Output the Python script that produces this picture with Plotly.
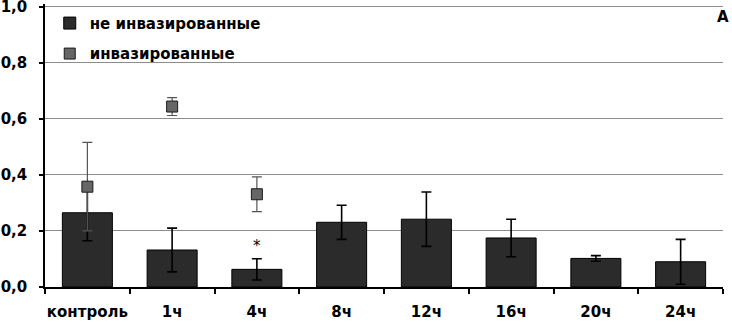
import plotly.graph_objects as go

categories = ["контроль", "1ч", "4ч", "8ч", "12ч", "16ч", "20ч", "24ч"]
non_invaded = [0.265, 0.132, 0.063, 0.231, 0.242, 0.175, 0.102, 0.090]
non_invaded_err = [0.100, 0.078, 0.038, 0.061, 0.097, 0.067, 0.010, 0.080]
invaded_cats = ["контроль", "1ч", "4ч"]
invaded = [0.358, 0.644, 0.331]
invaded_err = [0.158, 0.032, 0.062]
yticks = [0.0, 0.2, 0.4, 0.6, 0.8, 1.0]

font_family = "DejaVu Sans"

fig = go.Figure()
fig.add_trace(go.Bar(
    x=categories, y=non_invaded, name="не инвазированные",
    marker=dict(color="#2b2b2b", line=dict(color="#000000", width=1)),
    width=0.59,
    error_y=dict(type="data", array=non_invaded_err, color="#000000", thickness=1.6, width=5),
    legendgroup="a",
))
fig.add_trace(go.Scatter(
    x=invaded_cats, y=invaded, name="инвазированные", mode="markers",
    marker=dict(symbol="square", size=11, color="#666666", line=dict(color="#1a1a1a", width=1)),
    error_y=dict(type="data", array=invaded_err, color="#555555", thickness=1.2, width=5),
    legendgroup="b",
))

# significance mark above 4ч
idx = categories.index("4ч")
fig.add_annotation(x="4ч", y=non_invaded[idx] + non_invaded_err[idx], yshift=13,
                   text="*", showarrow=False,
                   font=dict(family=font_family, size=15, color="#000000"))
fig.add_annotation(xref="paper", yref="paper", x=1.0, y=1.0, xanchor="right", yanchor="top",
                   xshift=8, yshift=-2,
                   text="<b>A</b>", showarrow=False,
                   font=dict(family=font_family, size=15, color="#000000"))

fig.update_layout(
    width=732, height=322,
    margin=dict(l=45, r=9, t=4, b=35, autoexpand=False),
    paper_bgcolor="white", plot_bgcolor="white",
    separators=", ",
    font=dict(family=font_family, size=13, color="#000"),
    showlegend=True,
    legend=dict(x=0.007, y=0.99, xanchor="left", yanchor="top",
                bgcolor="rgba(0,0,0,0)", traceorder="grouped", tracegroupgap=8,
                font=dict(family=font_family, size=15, color="#000", weight="bold"),
                itemwidth=30),
)
fig.update_xaxes(
    type="category", categoryorder="array", categoryarray=categories,
    showline=True, linecolor="#000", linewidth=1.5,
    ticks="outside", tickson="boundaries", ticklen=5, tickcolor="#000", tickwidth=1.5,
    tickfont=dict(family=font_family, size=15, weight="bold"),
    tickangle=0, ticklabelstandoff=10, ticklabeloverflow="allow",
    showgrid=False, automargin=False,
)
fig.update_yaxes(
    range=[0, 1.01], tickvals=yticks, tickformat=".1f",
    showline=True, linecolor="#000", linewidth=1.5,
    ticks="outside", ticklen=4, tickcolor="#000", tickwidth=1.5,
    showgrid=True, gridcolor="#8c8c8c", gridwidth=1.2,
    tickfont=dict(family=font_family, size=15, weight="bold"),
    ticklabelstandoff=9, ticklabeloverflow="allow",
    zeroline=False, automargin=False,
)

fig.write_html("out.html", post_script="document.body.style.margin='0';",
               config={"displayModeBar": False})
